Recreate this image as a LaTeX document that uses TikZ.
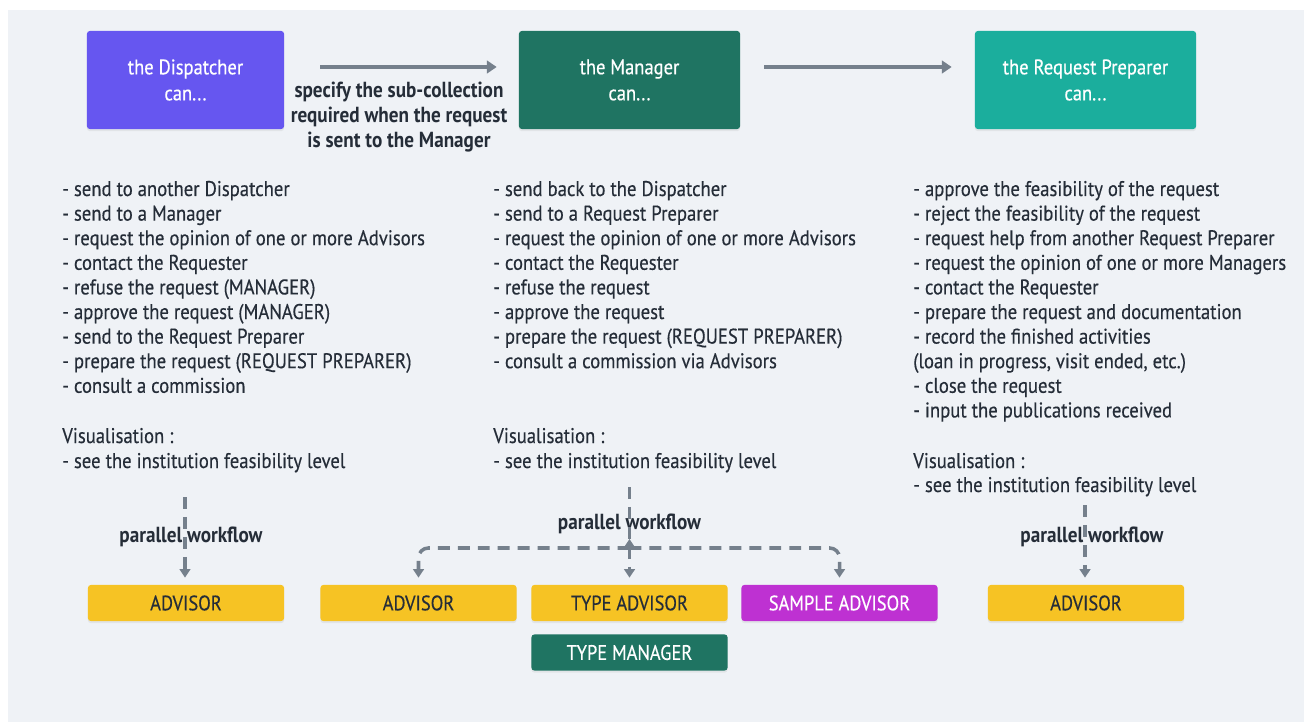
\documentclass[tikz,border=0pt]{standalone}
\usepackage{fontspec}
\setmainfont{PT Sans}[FakeStretch=0.88,UprightFeatures={FakeBold=0.35}]
\usetikzlibrary{arrows.meta,shadows}
\definecolor{panel}{HTML}{EFF2F6}
\definecolor{dispcol}{HTML}{6656F0}
\definecolor{mancol}{HTML}{1F7462}
\definecolor{prepcol}{HTML}{1BAE9D}
\definecolor{advcol}{HTML}{F6C324}
\definecolor{samplecol}{HTML}{BE31D2}
\definecolor{linecol}{HTML}{75808C}
\definecolor{ink}{HTML}{252D38}
\begin{document}
\begin{tikzpicture}[x=0.025cm,y=-0.025cm,
  role/.style={fill=#1,text=white,rounded corners=2pt,inner sep=0pt,align=center,
    minimum height=2.45cm,font=\fontsize{15}{18.5}\selectfont,
    drop shadow={shadow xshift=0pt,shadow yshift=-1.5pt,opacity=0.12}},
  tag/.style={fill=#1,rounded corners=2pt,inner sep=0pt,minimum width=4.9cm,
    minimum height=0.9cm,font=\fontsize{14.9}{16}\selectfont,text=ink,
    drop shadow={shadow xshift=0pt,shadow yshift=-1.5pt,opacity=0.12}},
  item/.style={anchor=base west,inner sep=0pt,text=ink,font=\fontsize{15.1}{17}\selectfont},
  note/.style={text=ink,font=\bfseries\fontsize{15.5}{17.5}\selectfont,align=center,inner sep=0pt},
  pass/.style={draw=linecol,line width=2.8pt,-{Triangle[length=7pt,width=9pt]}},
  flow/.style={draw=linecol,line width=2.5pt,dash pattern=on 8.5pt off 5.7pt,
    rounded corners=7pt,-{Triangle[length=6pt,width=7.5pt]}}]
\useasboundingbox (0,0) rectangle (1304,722);
\fill[white] (0,0) rectangle (1304,722);
\fill[panel] (8,10) rectangle (1304,722);

% the three roles
\node[role=dispcol,minimum width=4.925cm] (dis) at (185.5,80) {the Dispatcher\\can...};
\node[role=mancol,minimum width=5.525cm] (man) at (629.5,80) {the Manager\\can...};
\node[role=prepcol,minimum width=5.525cm] (pre) at (1085.5,80) {the Request Preparer\\can...};
\draw[pass] ([xshift=0.9cm,yshift=0.325cm]dis.east) -- ([xshift=-0.55cm,yshift=0.325cm]man.west);
\draw[pass] ([xshift=0.6cm,yshift=0.325cm]man.east) -- ([xshift=-0.575cm,yshift=0.325cm]pre.west);
\node[note] (spec) at (399,117) {specify the sub-collection\\required when the request\\is sent to the Manager};

% what each role can do
\foreach \t [count=\i from 0] in {{- send to another Dispatcher},{- send to a Manager},
  {- request the opinion of one or more Advisors},{- contact the Requester},
  {- refuse the request (MANAGER)},{- approve the request (MANAGER)},
  {- send to the Request Preparer},{- prepare the request (REQUEST PREPARER)},
  {- consult a commission}}
  \node[item] (d\i) at (62,196+24.6*\i) {\t};
\foreach \t [count=\i from 0] in {{- send back to the Dispatcher},{- send to a Request Preparer},
  {- request the opinion of one or more Advisors},{- contact the Requester},
  {- refuse the request},{- approve the request},
  {- prepare the request (REQUEST PREPARER)},{- consult a commission via Advisors}}
  \node[item] (m\i) at (493,196+24.6*\i) {\t};
\foreach \t [count=\i from 0] in {{- approve the feasibility of the request},
  {- reject the feasibility of the request},{- request help from another Request Preparer},
  {- request the opinion of one or more Managers},{- contact the Requester},
  {- prepare the request and documentation},{- record the finished activities},
  {(loan in progress, visit ended, etc.)},{- close the request},
  {- input the publications received}}
  \node[item] (p\i) at (913,196+24.6*\i) {\t};
\node[item] (dv) at (62,443) {Visualisation :};
\node[item] (dvs) at (62,468) {- see the institution feasibility level};
\node[item] (mv) at (493,443) {Visualisation :};
\node[item] (mvs) at (493,468) {- see the institution feasibility level};
\node[item] (pv) at (913,468) {Visualisation :};
\node[item] (pvs) at (913,492) {- see the institution feasibility level};

% advisors
\node[tag=advcol] (adv1) at (186,603) {ADVISOR};
\node[tag=advcol] (adv2) at (418.5,603) {ADVISOR};
\node[tag=advcol] (tadv) at (629.5,603) {TYPE ADVISOR};
\node[tag=samplecol,text=white] (sadv) at (839.5,603) {SAMPLE ADVISOR};
\node[tag=advcol] (adv3) at (1086,603) {ADVISOR};
\node[tag=mancol,text=white] (tman) at (629.5,652.5) {TYPE MANAGER};

% parallel workflows
\node[note] (pw1) at (191,537) {parallel workflow};
\node[note] (pw2) at (629.5,524) {parallel workflow};
\node[note] (pw3) at (1092,537) {parallel workflow};
\coordinate (s1) at (185,497);
\coordinate (s2) at (629.5,487);
\coordinate (fork) at (629.5,548);
\coordinate (s3) at (1085,505);
\draw[flow] (s1) -- ([yshift=5pt]adv1.north -| s1);
\draw[flow] (s2) -- ([yshift=5pt]tadv.north);
\draw[flow] (fork) -| ([yshift=5pt]adv2.north);
\draw[flow] (fork) -| ([yshift=5pt]sadv.north);
\draw[flow] (fork) -- ++(0,-9);
\draw[flow] (s3) -- ([yshift=5pt]adv3.north -| s3);
\end{tikzpicture}
\end{document}
